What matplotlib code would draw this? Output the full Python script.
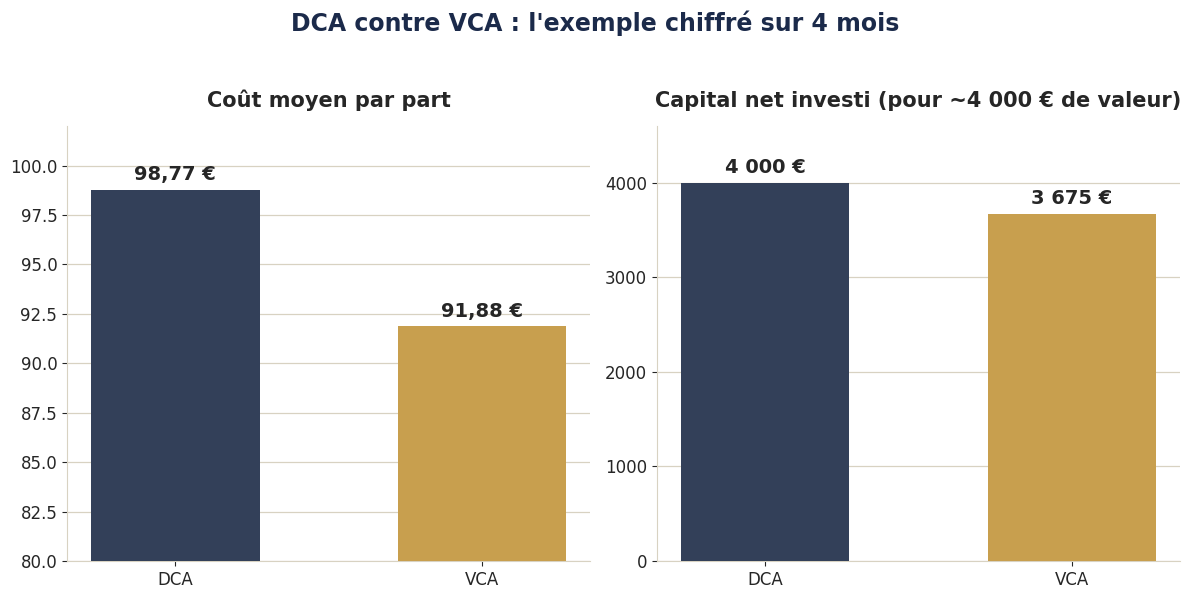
import matplotlib.pyplot as plt

# Données
strategies = ["DCA", "VCA"]
cout_moyen = [98.77, 91.88]
capital_net = [4000, 3675]
labels_cout = ["98,77 €", "91,88 €"]
labels_capital = ["4 000 €", "3 675 €"]

couleurs = ["#334059", "#C89F4E"]
beige = "#d8d2c2"

fig = plt.figure(figsize=(11.91, 5.99), dpi=100)
ax1 = fig.add_axes([0.0563, 0.0634, 0.4391, 0.7262])
ax2 = fig.add_axes([0.5516, 0.0634, 0.4392, 0.7262])

for ax, vals, labs, titre, ylim in [
    (ax1, cout_moyen, labels_cout, "Coût moyen par part", (80, 102)),
    (ax2, capital_net, labels_capital, "Capital net investi (pour ~4 000 € de valeur)", (0, 4600)),
]:
    bars = ax.bar(strategies, vals, width=0.55, color=couleurs, zorder=3)
    ax.set_ylim(*ylim)
    ax.set_title(titre, fontsize=15, fontweight="bold", color="#262626", pad=14)
    for b, lab in zip(bars, labs):
        ax.annotate(lab, (b.get_x() + b.get_width() / 2, b.get_height()),
                    xytext=(0, 4), textcoords="offset points",
                    ha="center", va="bottom", fontsize=14, fontweight="bold", color="#262626")
    ax.grid(axis="y", color=beige, linewidth=0.9, zorder=0)
    ax.set_axisbelow(True)
    for s in ["top", "right"]:
        ax.spines[s].set_visible(False)
    for s in ["left", "bottom"]:
        ax.spines[s].set_color(beige)
    ax.tick_params(colors="#262626", labelsize=12)

fig.suptitle("DCA contre VCA : l'exemple chiffré sur 4 mois", fontsize=17,
             fontweight="bold", color="#1b2a4a", y=0.982)

fig.savefig("out.png", dpi=100)
